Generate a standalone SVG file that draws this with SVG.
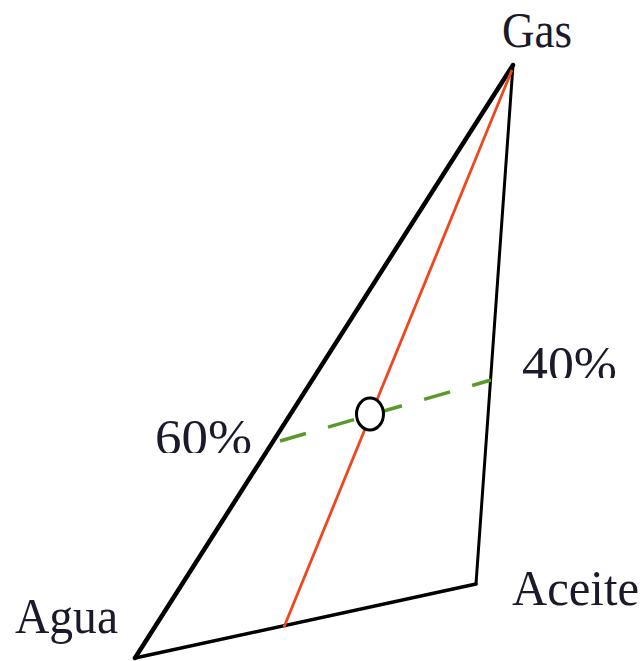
<svg xmlns="http://www.w3.org/2000/svg" width="644" height="661" viewBox="0 0 644 661">
<style>
.lbl{font-family:"Liberation Serif","DejaVu Serif",serif;font-size:50px;fill:#1a1a2a}
.edge{stroke:#000;fill:none;stroke-linecap:round;stroke-linejoin:round}
</style>
<defs>
<clipPath id="c40"><rect x="500" y="330" width="140" height="48"/></clipPath>
<clipPath id="c60"><rect x="140" y="400" width="130" height="53"/></clipPath>
</defs>
<rect width="644" height="661" fill="#fff"/>
<g id="connectors">
<line class="edge" x1="513" y1="65" x2="135" y2="658" stroke-width="4.5"/>
<line class="edge" x1="513" y1="65" x2="476" y2="584" stroke-width="3"/>
<line class="edge" x1="135" y1="658" x2="476" y2="584" stroke-width="3.5"/>
<line x1="512" y1="70" x2="284" y2="627" stroke="#f0461e" stroke-width="2.8"/>
<line x1="280" y1="441" x2="491" y2="380" stroke="#5a9a28" stroke-width="3.5" stroke-dasharray="27 23"/>
</g>
<g id="point"><ellipse cx="370" cy="414" rx="13.5" ry="16" fill="#fff" stroke="#000" stroke-width="3"/></g>
<g id="gas"><text class="lbl" x="502" y="47" textLength="70" lengthAdjust="spacingAndGlyphs">Gas</text></g>
<g id="agua"><text class="lbl" x="15" y="633" textLength="103" lengthAdjust="spacingAndGlyphs">Agua</text></g>
<g id="aceite"><text class="lbl" x="512" y="605" textLength="127" lengthAdjust="spacingAndGlyphs">Aceite</text></g>
<g id="p40" clip-path="url(#c40)"><text class="lbl" x="522" y="381" textLength="95" lengthAdjust="spacingAndGlyphs">40%</text></g>
<g id="p60" clip-path="url(#c60)"><text class="lbl" x="155" y="454" textLength="97" lengthAdjust="spacingAndGlyphs">60%</text></g>
</svg>
